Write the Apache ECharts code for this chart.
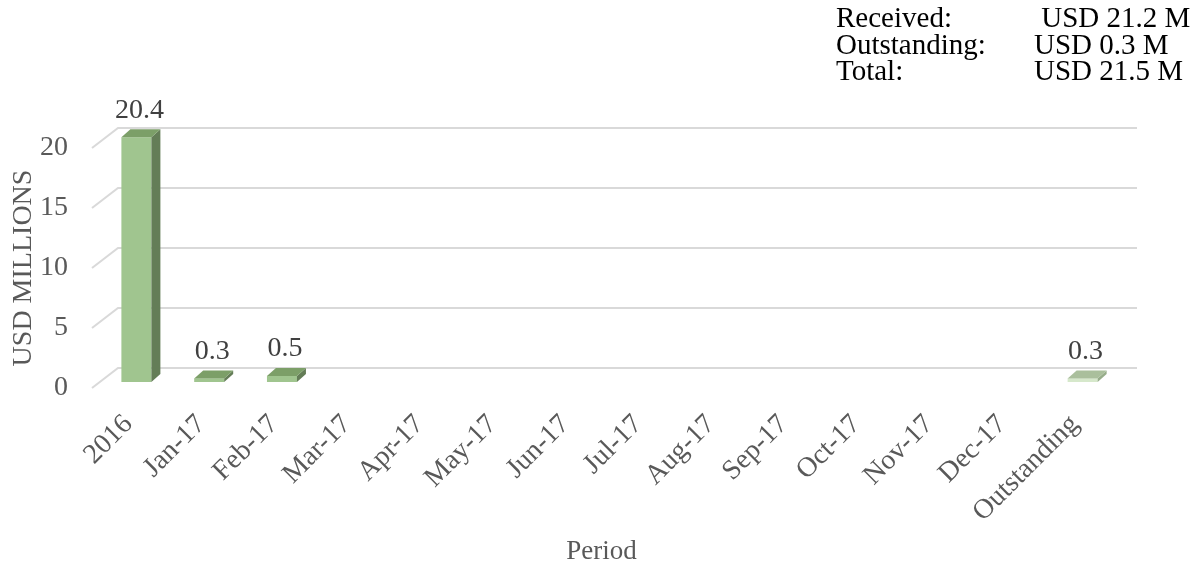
<!DOCTYPE html>
<html>
<head>
<meta charset="utf-8">
<script src="https://cdn.jsdelivr.net/npm/echarts@6/dist/echarts.min.js"></script>
<style>
  html, body { margin: 0; padding: 0; background: #fff; }
  #chart { width: 1195px; height: 561px; }
</style>
</head>
<body>
<div id="chart"></div>
<script>
// chart data
const periods = ['2016', 'Jan-17', 'Feb-17', 'Mar-17', 'Apr-17', 'May-17', 'Jun-17',
  'Jul-17', 'Aug-17', 'Sep-17', 'Oct-17', 'Nov-17', 'Dec-17', 'Outstanding']
const amounts = [20.4, 0.3, 0.5, 0, 0, 0, 0, 0, 0, 0, 0, 0, 0, 0.3]
const valueTicks = [0, 5, 10, 15, 20]
const summaryLabels = ['Received:', 'Outstanding:', 'Total:']
const summaryValues = [' USD 21.2 M', 'USD 0.3 M', 'USD 21.5 M']

const FONT = '"Liberation Serif", "Times New Roman", serif'
// floor depth of the fake 3d box and the plane the bars stand on
const FLOOR = [26, -20]
const PLANE = [8, -6]
const DEPTH = [9, -8]

const normalColors = { front: '#a0c58f', side: '#647d57', top: '#7c9f68' }
const outstandingColors = { front: '#d6e8cb', side: '#97ad8a', top: '#aabf9c' }

const chart = echarts.init(document.getElementById('chart'))

function renderGrid(params, api) {
  const cs = params.coordSys
  const p = api.coord([0, api.value(1)])
  const x0 = cs.x
  const y = p[1]
  return {
    type: 'polyline',
    shape: {
      points: [
        [x0, y],
        [x0 + FLOOR[0], y + FLOOR[1]],
        [cs.x + cs.width + FLOOR[0], y + FLOOR[1]]
      ]
    },
    style: { stroke: '#d9d9d9', lineWidth: 2, fill: null },
    silent: true
  }
}

function renderBar(params, api) {
  const i = api.value(0)
  const v = api.value(1)
  if (!v) return
  const base = api.coord([i, 0])
  const top = api.coord([i, v])
  const half = 15
  const cx = base[0] + PLANE[0]
  const yb = base[1] + PLANE[1]
  const yt = top[1] + PLANE[1]
  const l = cx - half
  const r = cx + half
  const c = periods[i] === 'Outstanding' ? outstandingColors : normalColors
  return {
    type: 'group',
    children: [
      {
        type: 'rect',
        shape: { x: l, y: yt, width: r - l, height: yb - yt },
        style: { fill: c.front }
      },
      {
        type: 'polygon',
        shape: { points: [[r, yb], [r, yt], [r + DEPTH[0], yt + DEPTH[1]], [r + DEPTH[0], yb + DEPTH[1]]] },
        style: { fill: c.side }
      },
      {
        type: 'polygon',
        shape: { points: [[l, yt], [r, yt], [r + DEPTH[0], yt + DEPTH[1]], [l + DEPTH[0], yt + DEPTH[1]]] },
        style: { fill: c.top }
      },
      {
        type: 'text',
        style: {
          x: cx + 3,
          y: yt + DEPTH[1] - 5,
          text: v.toFixed(1),
          font: '28px ' + FONT,
          fill: '#404040',
          align: 'center',
          verticalAlign: 'bottom'
        }
      }
    ]
  }
}

chart.setOption({
  animation: false,
  backgroundColor: '#fff',
  grid: { left: 92, right: 84, top: 148, bottom: 173, containLabel: false, outerBoundsMode: 'none' },
  xAxis: {
    type: 'category',
    data: periods,
    name: 'Period',
    nameLocation: 'middle',
    nameGap: 150,
    nameMoveOverlap: false,
    nameTextStyle: { fontFamily: FONT, fontSize: 27, color: '#595959' },
    axisLine: { show: false },
    axisTick: { show: false },
    axisLabel: {
      rotate: 45,
      interval: 0,
      margin: 32,
      fontFamily: FONT,
      fontSize: 28,
      color: '#595959'
    }
  },
  yAxis: {
    type: 'value',
    min: 0,
    max: 20,
    interval: 5,
    name: 'USD MILLIONS',
    nameLocation: 'middle',
    nameGap: 54,
    nameMoveOverlap: false,
    nameTextStyle: { fontFamily: FONT, fontSize: 28, color: '#595959' },
    axisLine: { show: false },
    axisTick: { show: false },
    splitLine: { show: false },
    axisLabel: { margin: 24, fontFamily: FONT, fontSize: 28, color: '#595959' }
  },
  graphic: summaryLabels.flatMap((lab, k) => [
    { type: 'text', left: 836, top: 5 + k * 26.5, style: { text: lab, font: '29px ' + FONT, fill: '#000' } },
    { type: 'text', left: 1034, top: 5 + k * 26.5, style: { text: summaryValues[k], font: '29px ' + FONT, fill: '#000' } }
  ]),
  series: [
    {
      type: 'custom',
      renderItem: renderGrid,
      data: valueTicks.map(t => [0, t]),
      silent: true,
      z: 1
    },
    {
      type: 'custom',
      renderItem: renderBar,
      data: amounts.map((v, i) => [i, v]),
      z: 2
    }
  ]
})
</script>
</body>
</html>
